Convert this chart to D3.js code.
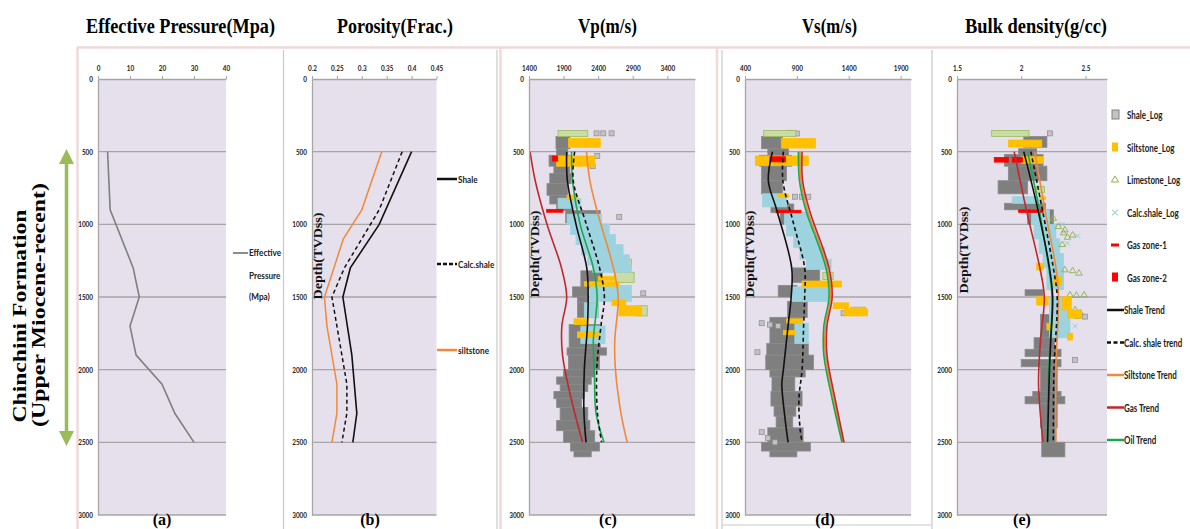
<!DOCTYPE html>
<html>
<head>
<meta charset="utf-8">
<script src="https://cdn.jsdelivr.net/npm/d3@7"></script>
<style>
  body { margin: 0; background: #fff; }
  svg { display: block; }
  .serif { font-family: "Liberation Serif", "Times New Roman", serif; font-weight: bold; }
  .sans { font-family: Lato, "Liberation Sans", sans-serif; font-weight: bold; }
</style>
</head>
<body>
<script>
// ---------- data ----------
var depthTicks = [0, 500, 1000, 1500, 2000, 2500, 3000];
var pressureTicks = [0, 10, 20, 30, 40];
var porosityTicks = [0.2, 0.25, 0.3, 0.35, 0.4, 0.45];
var vpTicks = [1400, 1900, 2400, 2900, 3400];
var vsTicks = [400, 900, 1400, 1900];
var rhoTicks = [1.5, 2, 2.5];

// (a) effective pressure [depth, MPa]
var pressure = [[500, 3.0], [700, 3.4], [900, 3.8], [1300, 11], [1500, 12.9], [1700, 10], [1900, 11.9], [2100, 20], [2300, 24], [2500, 30]];

// (b) porosity [depth, frac]
var porosityShale = [[500, 0.40], [1000, 0.335], [1300, 0.277], [1500, 0.262], [1900, 0.28], [2300, 0.29], [2500, 0.282]];
var porosityCalc = [[500, 0.381], [900, 0.335], [1100, 0.30], [1300, 0.265], [1500, 0.24], [1900, 0.26], [2100, 0.27], [2300, 0.27], [2500, 0.26]];
var porositySilt = [[500, 0.34], [900, 0.30], [1100, 0.263], [1500, 0.225], [1700, 0.23], [1900, 0.24], [2100, 0.25], [2300, 0.25], [2500, 0.24]];

// log bands [top depth, bottom depth, min, max]; single samples [depth, value]
// (c) Vp
var vpShaleLog = [[395, 480, 1790, 1990], [480, 525, 1800, 1960], [525, 600, 1690, 1990], [600, 650, 1760, 1990], [650, 720, 1700, 2010],
  [720, 800, 1660, 1960], [800, 860, 1700, 1960], [860, 905, 1800, 2030], [905, 990, 1930, 2430], [1320, 1400, 2150, 2460],
  [1400, 1440, 2150, 2300], [1430, 1500, 2030, 2250], [1500, 1540, 2100, 2260], [1540, 1640, 2100, 2400], [1690, 1850, 1980, 2430],
  [1850, 1900, 1950, 2520], [1900, 2000, 1970, 2420], [2000, 2050, 1900, 2350], [2050, 2100, 1800, 2300], [2100, 2150, 1850, 2250],
  [2150, 2200, 1760, 2200], [2200, 2260, 1800, 2160], [2260, 2350, 1850, 2250], [2350, 2420, 1800, 2280], [2420, 2500, 1900, 2350],
  [2500, 2560, 2000, 2420], [2560, 2600, 2050, 2300]];
var vpShaleSamples = [[374, 2377], [374, 2474], [374, 2594], [530, 2387], [600, 2320], [950, 2705], [1475, 3052]];
var vpSiltLog = [[410, 470, 1970, 2430], [530, 600, 1800, 2350], [800, 830, 1950, 2100], [1360, 1385, 2400, 2650], [1395, 1425, 2200, 2700],
  [1520, 1560, 2600, 2800], [1560, 1630, 2700, 3030], [1650, 1690, 2050, 2250], [1740, 1780, 2100, 2400]];
var vpCalcLog = [[820, 890, 1820, 2150], [930, 1000, 1950, 2450], [1000, 1070, 2000, 2560], [1070, 1140, 2080, 2650], [1140, 1210, 2160, 2760],
  [1210, 1280, 2250, 2850], [1280, 1330, 2320, 2880], [1420, 1530, 2280, 2880], [1540, 1640, 2200, 2400], [1700, 1820, 2150, 2500]];
var vpLimeLog = [[355, 395, 1820, 2250], [1240, 1300, 2750, 2880], [1330, 1400, 2650, 2920], [1560, 1630, 2950, 3110]];
var vpGasZone1 = [[897, 917, 1655, 1890]];
var vpGasZone2 = [[530, 565, 1740, 1815]];
var vpShaleTrend = [[500, 1945], [700, 1955], [1000, 2080], [1300, 2235], [1500, 2255], [1700, 2245], [2000, 2200], [2300, 2195], [2500, 2225]];
var vpCalcTrend = [[500, 2060], [700, 2040], [1000, 2230], [1300, 2420], [1500, 2490], [1700, 2440], [2000, 2380], [2300, 2390], [2500, 2450]];
var vpSiltTrend = [[500, 2230], [700, 2280], [900, 2380], [1300, 2620], [1500, 2690], [1800, 2640], [2000, 2650], [2300, 2730], [2500, 2820]];
var vpGasTrend = [[500, 1415], [700, 1490], [1000, 1660], [1300, 1870], [1500, 1945], [1700, 1875], [1900, 1885], [2200, 2010], [2500, 2175]];
var vpOilTrend = [[500, 2015], [700, 2030], [1000, 2140], [1300, 2330], [1500, 2385], [1800, 2330], [2000, 2345], [2300, 2370], [2500, 2485]];

// (d) Vs
var vsShaleLog = [[395, 480, 560, 760], [480, 525, 620, 820], [525, 600, 540, 850], [600, 700, 560, 800], [700, 790, 560, 760],
  [860, 920, 650, 870], [920, 1000, 740, 1000], [1300, 1400, 860, 1120], [1420, 1500, 720, 900], [1530, 1640, 810, 1000],
  [1640, 1820, 640, 950], [1820, 1900, 610, 1010], [1900, 2000, 600, 1060], [2000, 2050, 640, 980], [2050, 2150, 660, 880],
  [2150, 2250, 650, 950], [2250, 2320, 680, 890], [2320, 2400, 700, 860], [2400, 2500, 620, 960], [2500, 2560, 560, 1030], [2560, 2600, 640, 900]];
var vsShaleSamples = [[370, 830], [375, 900], [810, 882], [810, 950], [810, 1010], [1612, 1350], [1680, 561], [1690, 640], [1700, 720],
  [1880, 520], [2430, 561], [2470, 620], [2500, 689]];
var vsSiltLog = [[410, 475, 750, 1080], [530, 595, 500, 1010], [795, 815, 720, 820], [1390, 1430, 950, 1330], [1540, 1580, 1250, 1400],
  [1580, 1630, 1360, 1580], [1650, 1680, 800, 950], [1730, 1760, 770, 880]];
var vsCalcLog = [[790, 880, 570, 800], [920, 1000, 780, 1010], [1000, 1080, 800, 1050], [1080, 1160, 870, 1110], [1160, 1240, 930, 1170],
  [1240, 1310, 990, 1230], [1430, 1530, 850, 1200], [1680, 1820, 880, 1010]];
var vsLimeLog = [[355, 395, 580, 890], [1330, 1380, 1150, 1250], [1570, 1620, 1420, 1560]];
var vsGasZone1 = [[903, 921, 700, 940]];
var vsGasZone2 = [[535, 570, 640, 790]];
var vsShaleTrend = [[500, 665], [700, 625], [900, 705], [1300, 850], [1500, 845], [1700, 815], [2000, 770], [2100, 755], [2300, 780], [2500, 815]];
var vsCalcTrend = [[500, 770], [700, 765], [1000, 870], [1300, 975], [1500, 975], [1700, 965], [2000, 950], [2200, 920], [2400, 930], [2500, 950]];
var vsOilTrend = [[500, 915], [700, 925], [900, 985], [1300, 1180], [1500, 1210], [1700, 1160], [1900, 1160], [2200, 1240], [2500, 1335]];
var vsSiltTrend = [[500, 930], [700, 940], [900, 1000], [1300, 1195], [1500, 1225], [1700, 1175], [1900, 1175], [2200, 1255], [2500, 1345]];
var vsGasTrend = [[500, 950], [700, 955], [900, 1020], [1300, 1210], [1500, 1240], [1700, 1190], [1900, 1190], [2200, 1268], [2500, 1355]];

// (e) bulk density
var rhoShaleLog = [[395, 470, 2.02, 2.20], [480, 520, 1.98, 2.12], [520, 600, 1.87, 2.17], [600, 700, 1.90, 2.20], [700, 790, 1.82, 2.05],
  [855, 900, 1.87, 2.19], [900, 1000, 2.05, 2.25], [1450, 1490, 2.03, 2.17], [1620, 1780, 2.15, 2.30], [1780, 1860, 2.10, 2.26],
  [1860, 1910, 2.03, 2.31], [1930, 1980, 2.00, 2.31], [1980, 2150, 2.15, 2.28], [2150, 2185, 2.09, 2.31], [2185, 2235, 2.03, 2.34],
  [2235, 2400, 2.15, 2.28], [2400, 2500, 2.16, 2.27], [2500, 2600, 2.16, 2.34]];
var rhoShaleSamples = [[374, 2.224], [1635, 2.497], [1933, 2.419]];
var rhoSiltLog = [[420, 468, 1.90, 2.16], [535, 580, 2.00, 2.17], [810, 830, 2.15, 2.19], [1268, 1314, 2.12, 2.17], [1360, 1418, 2.25, 2.31],
  [1498, 1555, 2.12, 2.21], [1498, 1589, 2.32, 2.39], [1589, 1645, 2.36, 2.47], [1681, 1727, 2.20, 2.24], [1750, 1796, 2.36, 2.40]];
var rhoCalcLog = [[810, 855, 1.93, 2.16], [900, 1000, 2.08, 2.22], [1000, 1100, 2.10, 2.27], [1100, 1200, 2.14, 2.30], [1200, 1300, 2.17, 2.33],
  [1300, 1450, 2.20, 2.33], [1500, 1780, 2.22, 2.38]];
var rhoCalcSamples = [[1000, 2.32], [1020, 2.18], [1080, 2.44], [1700, 2.42], [1130, 2.36]];
var rhoLimeLog = [[355, 395, 1.77, 2.06], [740, 780, 2.12, 2.18]];
var rhoLimeSamples = [[960, 2.25], [1016, 2.29], [1039, 2.34], [1060, 2.33], [1075, 2.40], [1090, 2.36], [1140, 2.32], [1314, 2.34],
  [1320, 2.40], [1337, 2.45], [1487, 2.38], [1490, 2.43], [1487, 2.49], [1589, 2.42], [1610, 2.46], [1635, 2.44]];
var rhoGasZone1 = [[900, 918, 1.98, 2.17]];
var rhoGasZone2 = [[540, 572, 1.79, 1.90], [540, 572, 1.93, 2.01]];
var rhoShaleTrend = [[500, 2.02], [900, 2.13], [1300, 2.22], [1500, 2.245], [1800, 2.23], [2000, 2.22], [2500, 2.205]];
var rhoCalcTrend = [[500, 2.075], [900, 2.165], [1300, 2.25], [1500, 2.28], [2000, 2.255], [2500, 2.25]];
var rhoOilTrend = [[500, 2.05], [900, 2.14], [1300, 2.215], [1500, 2.24], [2000, 2.215], [2500, 2.205]];
var rhoSiltTrend = [[500, 2.105], [900, 2.185], [1300, 2.27], [1500, 2.29], [2000, 2.27], [2500, 2.27]];
var rhoGasTrend = [[500, 1.945], [900, 2.04], [1300, 2.145], [1500, 2.18], [1800, 2.15], [2100, 2.135], [2500, 2.17]];

var logLegend = ["Shale_Log", "Siltstone_Log", "Limestone_Log", "Calc.shale_Log", "Gas zone-1", "Gas zone-2",
  "Shale Trend", "Calc. shale trend", "Siltstone Trend", "Gas Trend", "Oil Trend"];

// ---------- drawing ----------
var svg = d3.select("body").append("svg").attr("width", 1190).attr("height", 529);
var y = d3.scaleLinear().domain([0, 3000]).range([79, 515]);

var C = { bg: "#e6e0ec", grid: "#a6a6a6", shale: "#7f7f7f", silt: "#ffc000", calc: "#9dd3de", lime: "#c9dca6",
  gas: "#ff0000", orange: "#f0893a", gasTrend: "#c0282d", oil: "#1aa84f" };

// condense a text like the narrow font of the original
function narrow(sel, k) {
  sel.each(function() {
    var w = this.getComputedTextLength();
    d3.select(this).attr("textLength", w * k).attr("lengthAdjust", "spacingAndGlyphs");
  });
}
// narrow label drawn through a horizontal squeeze
function label(x, yy, txt, size, k) {
  return svg.append("text").attr("class", "sans").attr("transform", "translate(" + x + "," + yy + ") scale(" + k + ",1)")
    .attr("font-size", size).attr("fill", "#222").text(txt);
}

// frames
var pink = "#efd9d9", grayF = "#c9c9c9";
svg.append("line").attr("x1", 77).attr("x2", 1190).attr("y1", 47.5).attr("y2", 47.5).attr("stroke", pink).attr("stroke-width", 2.5);
[77.5, 500.5, 717].forEach(function(x) {
  svg.append("line").attr("x1", x).attr("x2", x).attr("y1", 47).attr("y2", 529).attr("stroke", pink).attr("stroke-width", 2.5);
});
[283.5, 497, 722, 932].forEach(function(x) {
  svg.append("line").attr("x1", x).attr("x2", x).attr("y1", 50).attr("y2", 529).attr("stroke", grayF).attr("stroke-width", 1.2);
});
svg.append("line").attr("x1", 722).attr("x2", 932).attr("y1", 525).attr("y2", 525).attr("stroke", grayF).attr("stroke-width", 1.2);

function addPlot(x0, x1, dom) {
  var x = d3.scaleLinear().domain(dom).range([x0, x1]);
  svg.append("rect").attr("x", x0).attr("y", y(0)).attr("width", x1 - x0).attr("height", y(3000) - y(0)).attr("fill", C.bg);
  svg.append("g").selectAll("line").data(depthTicks.slice(1)).join("line")
    .attr("x1", x0).attr("x2", x1).attr("y1", function(d) { return y(d); }).attr("y2", function(d) { return y(d); })
    .attr("stroke", C.grid).attr("stroke-width", 1.3);
  return x;
}

function addAxes(x, ticks) {
  var ax = svg.append("g").attr("transform", "translate(0," + y(0) + ")")
    .call(d3.axisTop(x).tickValues(ticks).tickFormat(function(d) { return String(d); }).tickSize(3).tickSizeOuter(0).tickPadding(5));
  var ay = svg.append("g").attr("transform", "translate(" + x.range()[0] + ",0)")
    .call(d3.axisLeft(y).tickValues(depthTicks).tickFormat(d3.format("d")).tickSize(0).tickPadding(5));
  [ax, ay].forEach(function(a) {
    a.select(".domain").attr("stroke", C.grid).attr("stroke-width", 1.3);
    a.selectAll(".tick line").attr("stroke", C.grid);
    a.selectAll("text").attr("class", "sans").attr("font-size", 7.5).attr("fill", "#222").call(narrow, 0.85);
  });
}

function bands(x, data, fill, stroke) {
  svg.append("g").selectAll("rect").data(data).join("rect")
    .attr("x", function(d) { return x(d[2]); }).attr("y", function(d) { return y(d[0]); })
    .attr("width", function(d) { return x(d[3]) - x(d[2]); }).attr("height", function(d) { return y(d[1]) - y(d[0]); })
    .attr("fill", fill).attr("stroke", stroke || fill).attr("stroke-width", 0.8);
}

function squares(x, data) {
  svg.append("g").selectAll("rect").data(data).join("rect")
    .attr("x", function(d) { return x(d[1]) - 2.5; }).attr("y", function(d) { return y(d[0]) - 2.5; })
    .attr("width", 5).attr("height", 5).attr("fill", "#c3c3c3").attr("stroke", "#8c8c8c").attr("stroke-width", 0.7);
}

function symbols(x, data, type, color) {
  svg.append("g").selectAll("path").data(data).join("path")
    .attr("transform", function(d) { return "translate(" + x(d[1]) + "," + y(d[0]) + ")"; })
    .attr("d", d3.symbol().type(type).size(18)).attr("fill", "none").attr("stroke", color).attr("stroke-width", 0.9);
}

function trend(x, data, color, dash, smooth, width) {
  var line = d3.line().x(function(d) { return x(d[1]); }).y(function(d) { return y(d[0]); });
  if (smooth) line.curve(d3.curveCatmullRom.alpha(0.5));
  svg.append("path").datum(data).attr("d", line).attr("fill", "none").attr("stroke", color)
    .attr("stroke-width", width || 1.6).attr("stroke-dasharray", dash ? "4,3" : null);
}

// (a)
var xa = addPlot(98, 226, [0, 40]);
trend(xa, pressure, "#7f7f7f", false, false, 1.6);
addAxes(xa, pressureTicks);

// (b)
var xb = addPlot(312, 436.5, [0.2, 0.45]);
trend(xb, porositySilt, C.orange, false, false, 1.5);
trend(xb, porosityCalc, "#111", true, false, 1.5);
trend(xb, porosityShale, "#111", false, false, 1.6);
addAxes(xb, porosityTicks);

function logPanel(x, L) {
  bands(x, L.shale, C.shale, "#8a8a8a");
  squares(x, L.shaleS);
  bands(x, L.lime, C.lime, "#9bbb59");
  bands(x, L.calc, C.calc);
  if (L.calcS) symbols(x, L.calcS, d3.symbolTimes, "#8fcbd6");
  if (L.limeS) symbols(x, L.limeS, d3.symbolTriangle, "#8fb04f");
  bands(x, L.silt, C.silt);
  bands(x, L.gas1, C.gas);
  bands(x, L.gas2, C.gas);
  trend(x, L.silt_t, C.orange, false, true);
  trend(x, L.gas_t, C.gasTrend, false, true);
  trend(x, L.oil_t, C.oil, false, true);
  trend(x, L.calc_t, "#111", true, true);
  trend(x, L.shale_t, "#111", false, true);
}

// (c)
var xc = addPlot(529, 695, [1400, 3800]);
logPanel(xc, { shale: vpShaleLog, shaleS: vpShaleSamples, silt: vpSiltLog, calc: vpCalcLog, lime: vpLimeLog,
  gas1: vpGasZone1, gas2: vpGasZone2, shale_t: vpShaleTrend, calc_t: vpCalcTrend, silt_t: vpSiltTrend, gas_t: vpGasTrend, oil_t: vpOilTrend });
addAxes(xc, vpTicks);

// (d)
var xd = addPlot(745, 911, [400, 2000]);
logPanel(xd, { shale: vsShaleLog, shaleS: vsShaleSamples, silt: vsSiltLog, calc: vsCalcLog, lime: vsLimeLog,
  gas1: vsGasZone1, gas2: vsGasZone2, shale_t: vsShaleTrend, calc_t: vsCalcTrend, silt_t: vsSiltTrend, gas_t: vsGasTrend, oil_t: vsOilTrend });
addAxes(xd, vsTicks);

// (e)
var xe = addPlot(957, 1107, [1.5, 2.668]);
logPanel(xe, { shale: rhoShaleLog, shaleS: rhoShaleSamples, silt: rhoSiltLog, calc: rhoCalcLog, lime: rhoLimeLog, calcS: rhoCalcSamples, limeS: rhoLimeSamples,
  gas1: rhoGasZone1, gas2: rhoGasZone2, shale_t: rhoShaleTrend, calc_t: rhoCalcTrend, silt_t: rhoSiltTrend, gas_t: rhoGasTrend, oil_t: rhoOilTrend });
addAxes(xe, rhoTicks);

// titles
[["Effective Pressure(Mpa)", 180.5, 189], ["Porosity(Frac.)", 395, 116], ["Vp(m/s)", 607.5, 59],
 ["Vs(m/s)", 829.5, 55], ["Bulk  density(g/cc)", 1036, 142]].forEach(function(t) {
  svg.append("text").attr("class", "serif").attr("x", t[1]).attr("y", 33).attr("text-anchor", "middle")
    .attr("font-size", 21).attr("textLength", t[2]).attr("lengthAdjust", "spacingAndGlyphs").text(t[0]);
});

// panel letters
[["(a)", 162], ["(b)", 370], ["(c)", 608], ["(d)", 825], ["(e)", 1022]].forEach(function(t) {
  svg.append("text").attr("class", "serif").attr("x", t[1]).attr("y", 525).attr("text-anchor", "middle")
    .attr("font-size", 16).text(t[0]);
});

// depth labels
[[322, 256], [539, 254], [754, 254], [968, 250]].forEach(function(p) {
  svg.append("text").attr("class", "serif").attr("transform", "translate(" + p[0] + "," + p[1] + ") rotate(-90)")
    .attr("text-anchor", "middle").attr("font-size", 13).attr("textLength", 87).attr("lengthAdjust", "spacingAndGlyphs")
    .attr("fill", "#111").text("Depth(TVDss)");
});

// formation label + arrow
svg.append("text").attr("class", "serif").attr("transform", "translate(26,316) rotate(-90)").attr("text-anchor", "middle")
  .attr("font-size", 18).attr("textLength", 213).attr("lengthAdjust", "spacingAndGlyphs").text("Chinchini Formation");
svg.append("text").attr("class", "serif").attr("transform", "translate(45,305) rotate(-90)").attr("text-anchor", "middle")
  .attr("font-size", 18).attr("textLength", 244).attr("lengthAdjust", "spacingAndGlyphs").text("(Upper Miocene-recent)");
var green = "#9bbb59";
svg.append("line").attr("x1", 66.5).attr("x2", 66.5).attr("y1", 160).attr("y2", 436).attr("stroke", green).attr("stroke-width", 3.5);
svg.append("path").attr("d", "M66.5,149 L59,164 L74,164 Z M66.5,446 L59,431 L74,431 Z").attr("fill", green);

// legend (a)
svg.append("line").attr("x1", 233).attr("x2", 248).attr("y1", 253).attr("y2", 253).attr("stroke", "#7f7f7f").attr("stroke-width", 1.8);
[["Effective", 256], ["Pressure", 279], ["(Mpa)", 300]].forEach(function(t) {
  label(249, t[1], t[0], 10, 0.82);
});

// legend (b)
[["Shale", 179, false, "#111"], ["Calc.shale", 264, true, "#111"], ["siltstone", 350, false, C.orange]].forEach(function(t) {
  svg.append("line").attr("x1", 437).attr("x2", 457).attr("y1", t[1]).attr("y2", t[1]).attr("stroke", t[3])
    .attr("stroke-width", 2.5).attr("stroke-dasharray", t[2] ? "4,2" : null);
  label(458, t[1] + 3.5, t[0], 10, 0.82);
});

// legend (e)
svg.append("rect").attr("x", 1107).attr("y", 80).attr("width", 83).attr("height", 400).attr("fill", "#fff");
var lg = svg.append("g");
logLegend.forEach(function(name, i) {
  var yy = 115 + i * 32.5;
  var g = lg.append("g");
  if (i === 0) g.append("rect").attr("x", 1112).attr("y", yy - 5).attr("width", 7).attr("height", 9).attr("fill", "#c3c3c3").attr("stroke", "#808080");
  if (i === 1) g.append("rect").attr("x", 1112).attr("y", yy - 5).attr("width", 6).attr("height", 9).attr("fill", C.silt);
  if (i === 2) g.append("path").attr("transform", "translate(1115," + yy + ")").attr("d", d3.symbol().type(d3.symbolTriangle).size(22))
    .attr("fill", "none").attr("stroke", "#8fb04f");
  if (i === 3) g.append("path").attr("transform", "translate(1115," + yy + ")").attr("d", d3.symbol().type(d3.symbolTimes).size(22))
    .attr("fill", "none").attr("stroke", "#a9d7e0").attr("stroke-width", 1.2);
  if (i === 4) g.append("rect").attr("x", 1111).attr("y", yy - 1.5).attr("width", 8).attr("height", 3).attr("fill", C.gas);
  if (i === 5) g.append("rect").attr("x", 1112).attr("y", yy - 5).attr("width", 6).attr("height", 9).attr("fill", C.gas);
  var tx = 1127;
  if (i >= 6) {
    var col = ["#111", "#111", C.orange, C.gasTrend, C.oil][i - 6];
    g.append("line").attr("x1", 1107).attr("x2", 1124).attr("y1", yy).attr("y2", yy).attr("stroke", col)
      .attr("stroke-width", 2.5).attr("stroke-dasharray", i === 7 ? "4,2.5" : null);
    tx = 1124;
  }
  label(tx, yy + 4, name, 10.5, 0.76);
});
</script>
</body>
</html>
